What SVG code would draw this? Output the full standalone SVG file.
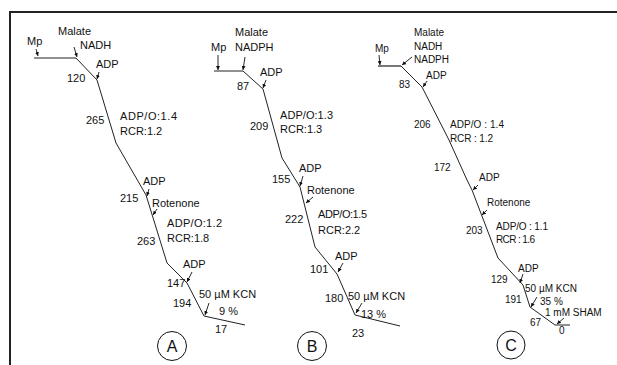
<svg xmlns="http://www.w3.org/2000/svg" width="617" height="365" viewBox="0 0 617 365">
<defs>
<marker id="ah" viewBox="0 0 6 6" refX="6" refY="3" markerWidth="4" markerHeight="4" markerUnits="userSpaceOnUse" orient="auto">
<path d="M0,0 L6,3 L0,6 z" fill="#111"/>
</marker>
</defs>
<style>
text{font-family:"Liberation Sans",Arial,sans-serif;fill:#111;}
.t{font-size:11px;}
.c{font-size:10px;fill:#222;}
.big{font-size:16px;}
.trace{fill:none;stroke:#222;stroke-width:1;stroke-linejoin:round;}
.arr{stroke:#111;stroke-width:0.9;fill:none;marker-end:url(#ah);}
.circ{fill:none;stroke:#111;stroke-width:1;}
.frame{stroke:#222;stroke-width:2;fill:none;}
</style>
<rect width="617" height="365" fill="#fff"/>
<path class="frame" d="M10,365 L10,12 L617,12"/>

<g id="panelA">
<polyline class="trace" points="34,58 76,58 97,80 116,143 146,195 167,263 187,283 204,316 245,325"/>
<g id="A-arrows">
<line class="arr" x1="36" y1="49" x2="38" y2="56"/>
<line class="arr" x1="74" y1="47" x2="77" y2="57"/>
<line class="arr" x1="99" y1="72" x2="97" y2="79"/>
<line class="arr" x1="149" y1="189" x2="147" y2="196"/>
<line class="arr" x1="157" y1="209" x2="153" y2="215"/>
<line class="arr" x1="192" y1="272" x2="187" y2="282"/>
<line class="arr" x1="209" y1="303" x2="205" y2="315"/>
</g>
<g id="A-labels" class="t">
<text x="27" y="45">Mp</text>
<text x="58" y="35">Malate</text>
<text x="80" y="49">NADH</text>
<text x="96" y="68">ADP</text>
<text x="67" y="82">120</text>
<text x="86" y="124">265</text>
<text x="120" y="120" textLength="57">ADP/O:1.4</text>
<text x="120" y="135">RCR:1.2</text>
<text x="143" y="185">ADP</text>
<text x="120" y="202">215</text>
<text x="152" y="207">Rotenone</text>
<text x="167" y="227" textLength="55">ADP/O:1.2</text>
<text x="167" y="242">RCR:1.8</text>
<text x="137" y="245">263</text>
<text x="183" y="268">ADP</text>
<text x="167" y="287">147</text>
<text x="173" y="307">194</text>
<text x="199" y="298">50 µM KCN</text>
<text x="219" y="315">9 %</text>
<text x="215" y="333">17</text>
</g>
<circle class="circ" cx="172" cy="346" r="14.5"/>
<text class="big" x="172" y="352" text-anchor="middle">A</text>
</g>

<g id="panelB">
<polyline class="trace" points="214,71 243,71 263,89 282,158 300,187 315,247 337,274 355,315 400,326"/>
<g id="B-arrows">
<line class="arr" x1="218" y1="55" x2="218" y2="70"/>
<line class="arr" x1="245" y1="57" x2="243" y2="70"/>
<line class="arr" x1="266" y1="80" x2="263" y2="88"/>
<line class="arr" x1="303" y1="176" x2="300" y2="186"/>
<line class="arr" x1="313" y1="197" x2="306" y2="203"/>
<line class="arr" x1="343" y1="263" x2="338" y2="272"/>
<line class="arr" x1="362" y1="303" x2="356" y2="313"/>
</g>
<g id="B-labels" class="t">
<text x="211" y="51">Mp</text>
<text x="235" y="36">Malate</text>
<text x="235" y="51">NADPH</text>
<text x="260" y="76">ADP</text>
<text x="237" y="90">87</text>
<text x="250" y="130">209</text>
<text x="280" y="119" textLength="53">ADP/O:1.3</text>
<text x="280" y="133">RCR:1.3</text>
<text x="299" y="172">ADP</text>
<text x="272" y="183">155</text>
<text x="307" y="194">Rotenone</text>
<text x="285" y="223">222</text>
<text x="318" y="218" textLength="49">ADP/O:1.5</text>
<text x="318" y="234">RCR:2.2</text>
<text x="335" y="260">ADP</text>
<text x="310" y="273">101</text>
<text x="325" y="302">180</text>
<text x="348" y="300">50 µM KCN</text>
<text x="361" y="318">13 %</text>
<text x="352" y="337">23</text>
</g>
<circle class="circ" cx="312" cy="346" r="14.5"/>
<text class="big" x="312" y="352" text-anchor="middle">B</text>
</g>

<g id="panelC">
<line x1="378" y1="66" x2="401" y2="66" stroke="#555" stroke-width="1.6"/>
<polyline class="trace" points="401,66 422,87 449,140 467,180 472,190 498,258 523,285 530,307 555,325 570,325"/>
<g id="C-arrows">
<line class="arr" x1="379" y1="55" x2="380" y2="65"/>
<line class="arr" x1="412" y1="57" x2="402" y2="65"/>
<line class="arr" x1="427" y1="81" x2="423" y2="87"/>
<line class="arr" x1="478" y1="185" x2="473" y2="190"/>
<line class="arr" x1="487" y1="210" x2="482" y2="215"/>
<line class="arr" x1="523" y1="274" x2="520" y2="283"/>
<line class="arr" x1="537" y1="297" x2="531" y2="307"/>
<line class="arr" x1="564" y1="318" x2="557" y2="324"/>
</g>
<g id="C-labels" class="c">
<text x="375" y="52">Mp</text>
<text x="414" y="36">Malate</text>
<text x="414" y="50">NADH</text>
<text x="414" y="63">NADPH</text>
<text x="426" y="79">ADP</text>
<text x="399" y="88">83</text>
<text x="414" y="128">206</text>
<text x="450" y="128" textLength="54">ADP/O : 1.4</text>
<text x="450" y="142" textLength="43">RCR : 1.2</text>
<text x="434" y="171">172</text>
<text x="479" y="181">ADP</text>
<text x="487" y="206">Rotenone</text>
<text x="466" y="234">203</text>
<text x="496" y="230" textLength="52">ADP/O : 1.1</text>
<text x="496" y="243" textLength="39">RCR : 1.6</text>
<text x="518" y="272">ADP</text>
<text x="491" y="283">129</text>
<text x="525" y="292">50 µM KCN</text>
<text x="505" y="303">191</text>
<text x="540" y="305">35 %</text>
<text x="545" y="316">1 mM SHAM</text>
<text x="530" y="326">67</text>
<text x="559" y="334">0</text>
</g>
<circle class="circ" cx="511" cy="345" r="14"/>
<text class="big" x="511" y="351" text-anchor="middle">C</text>
</g>
</svg>
